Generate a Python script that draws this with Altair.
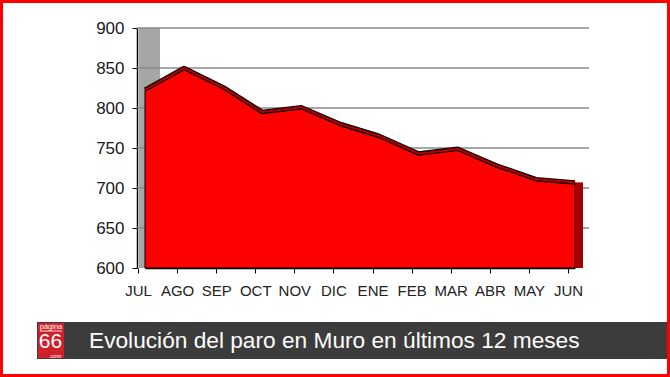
import altair as alt
import pandas as pd

months = ["JUL", "AGO", "SEP", "OCT", "NOV", "DIC", "ENE", "FEB", "MAR", "ABR", "MAY", "JUN"]
values = [823, 850, 826, 795, 801, 780, 765, 743, 749, 728, 711, 707]
y_ticks = [600, 650, 700, 750, 800, 850, 900]
title_text = "Evolución del paro en Muro en últimos 12 meses"

df = pd.DataFrame({"mes": months, "parados": values})
grid_df = pd.DataFrame({"g": y_ticks[1:]})
one = pd.DataFrame({"k": [0]})

W, H = 452, 240
PL, PT = 137, 28

xsc = alt.Scale(type="point", domain=months, range=[8, 438], padding=0)
ysc = alt.Scale(domain=[600, 900], nice=False, zero=False)

x_axis = alt.Axis(labelAngle=0, labelOffset=0, tickOffset=-7, labelFont="Liberation Sans",
                  labelFontSize=15, labelColor="#222222", labelPadding=10, tickSize=5,
                  domainColor="#000000", tickColor="#000000", domainWidth=1.5, grid=False)
y_axis = alt.Axis(values=y_ticks, labelFont="Liberation Sans", labelFontSize=17,
                  labelColor="#1a1a1a", labelPadding=8, tickSize=5, domainColor="#000000",
                  tickColor="#000000", domainWidth=1.5, grid=False, labelOverlap=False)

x_enc = alt.X("mes:N", scale=xsc, sort=months, title=None, axis=x_axis)
y_enc = alt.Y("parados:Q", scale=ysc, title=None, axis=y_axis)

base = alt.Chart(df)

axes_layer = base.mark_rule(opacity=0).encode(x=x_enc, y=y_enc)

wall = alt.Chart(one).mark_rule(color="#a6a6a6", strokeWidth=21, xOffset=4.5).encode(
    x=alt.datum("JUL", scale=xsc, axis=x_axis),
    y=alt.datum(900, scale=ysc, axis=y_axis), y2=alt.datum(600))

gridlines = alt.Chart(grid_df).mark_rule(color="#8a8a8a", strokeWidth=1.5).encode(
    y=alt.Y("g:Q", scale=ysc, axis=y_axis), x=alt.value(0), x2=alt.value(W))

area = base.mark_area(color="#ff0000", stroke="#000000", strokeWidth=1).encode(
    x=x_enc, y=y_enc, y2=alt.datum(600))

ridge_dark = base.mark_line(color="#000000", strokeWidth=4.5, strokeJoin="round").encode(
    x=x_enc, y=y_enc)
ridge = base.mark_line(color="#b00000", strokeWidth=2.2, strokeJoin="round").encode(
    x=x_enc, y=y_enc)

end_face = base.transform_filter(alt.datum.mes == "JUN").mark_rule(
    color="#a30000", strokeWidth=8, xOffset=4).encode(
    x=x_enc, y=y_enc, y2=alt.datum(600))

# title bar and decorations
bar = alt.Chart(one).mark_rect(color="#3c3c3c").encode(
    x=alt.value(37 - PL), x2=alt.value(667 - PL), y=alt.value(322 - PT), y2=alt.value(359 - PT))
logo = alt.Chart(one).mark_rect(color="#d0202a").encode(
    x=alt.value(38 - PL), x2=alt.value(64 - PL), y=alt.value(323 - PT), y2=alt.value(358 - PT))
logo_line = alt.Chart(one).mark_rule(color="#ffffff", strokeWidth=0.8).encode(
    x=alt.value(40 - PL), x2=alt.value(62 - PL), y=alt.value(331 - PT))
logo_top = alt.Chart(one).mark_text(text="página", color="#ffffff", fontSize=7.5,
                                    font="Liberation Sans", align="center", baseline="middle").encode(
    x=alt.value(51 - PL), y=alt.value(326.5 - PT))
logo_mid = alt.Chart(one).mark_text(text="66", color="#ffffff", fontSize=21,
                                    font="Liberation Sans", align="center", baseline="alphabetic").encode(
    x=alt.value(50.5 - PL), y=alt.value(348 - PT))
logo_bot = alt.Chart(one).mark_text(text=".com", color="#ffffff", fontSize=5.5,
                                    font="Liberation Sans", align="center", baseline="middle").encode(
    x=alt.value(55 - PL), y=alt.value(355.5 - PT))
title = alt.Chart(one).mark_text(text=title_text, color="#ffffff", fontSize=22.7,
                                 font="Liberation Sans", align="left", baseline="middle").encode(
    x=alt.value(89 - PL), y=alt.value(341 - PT))
border = alt.Chart(one).mark_rect(fill=None, stroke="#ff0000", strokeWidth=3).encode(
    x=alt.value(1.5 - PL), x2=alt.value(668.5 - PL), y=alt.value(1.5 - PT), y2=alt.value(375.5 - PT))

chart = alt.layer(axes_layer, wall, gridlines, area, ridge_dark, ridge, end_face, bar, logo,
                  logo_line, logo_top, logo_mid, logo_bot, title, border).properties(
    width=W, height=H,
    autosize=alt.AutoSizeParams(type="none"),
    padding={"left": PL, "top": PT, "right": 670 - PL - W, "bottom": 377 - PT - H},
    background="#ffffff",
).configure_view(stroke=None)

chart.save("out.html", embed_options={"renderer": "svg", "actions": False})
